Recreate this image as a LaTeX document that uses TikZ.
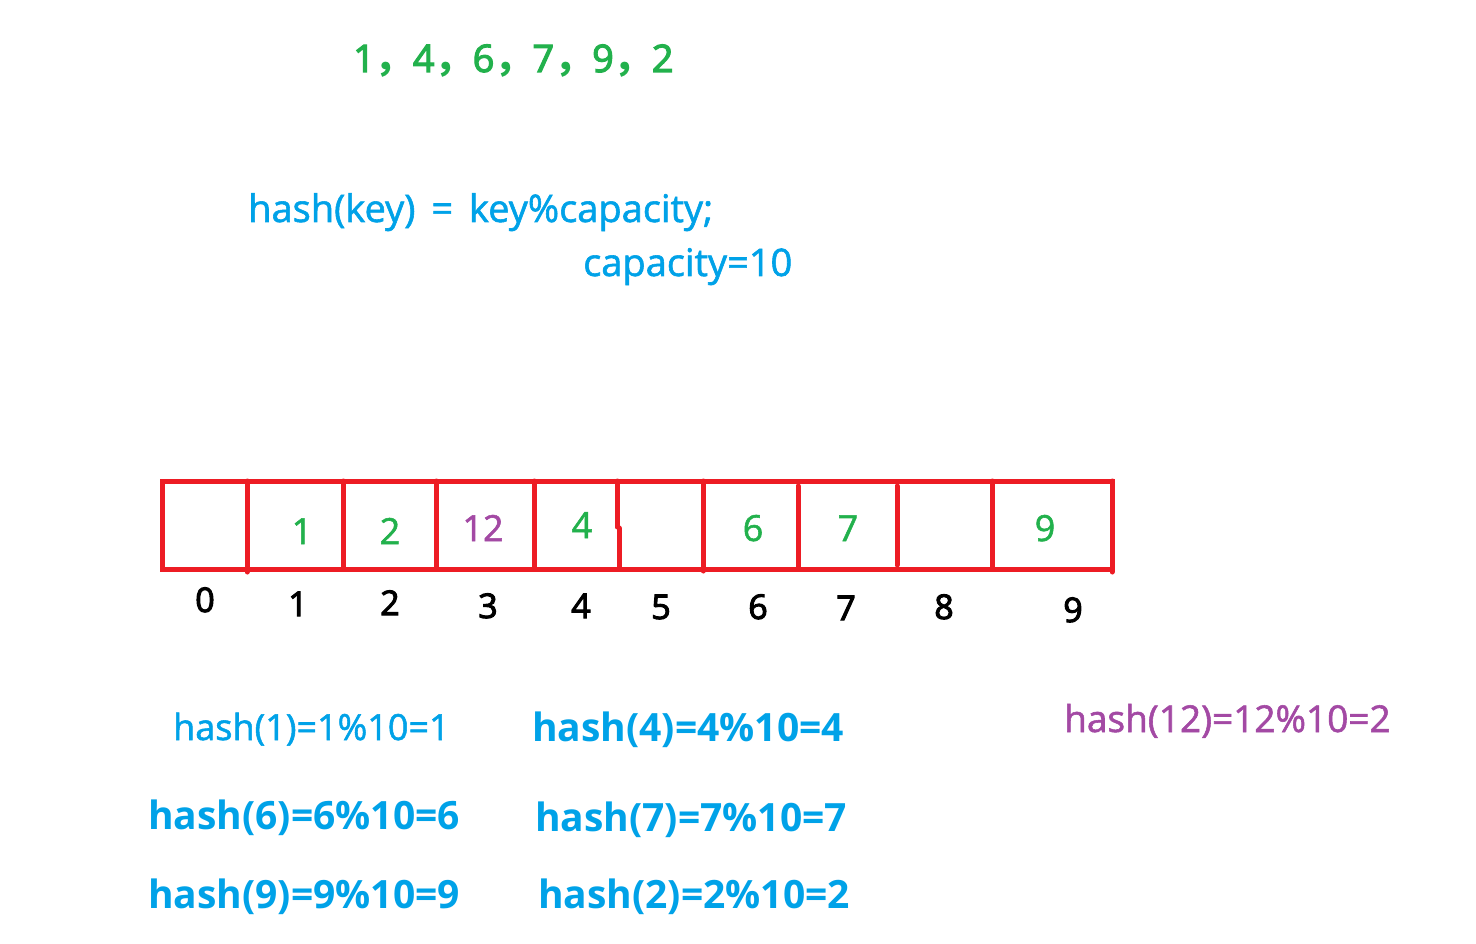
\documentclass[tikz,border=0pt]{standalone}
\usepackage{fontspec}
\setmainfont{Open Sans}
\newfontfamily\medfont[FakeBold=1.5]{Open Sans}
\newfontfamily\semifont[FakeBold=3]{Open Sans}
\newfontfamily\cjk{Noto Sans CJK SC}
\definecolor{pgreen}{RGB}{34,177,76}
\definecolor{pblue}{RGB}{0,162,232}
\definecolor{ppurple}{RGB}{163,73,164}
\definecolor{pred}{RGB}{237,28,36}
\begin{document}
\begin{tikzpicture}[x=1pt,y=-1pt,
  txt/.style={inner sep=0pt, anchor=base west, font=\fontsize{38}{44}\medfont},
  seqtxt/.style={inner sep=0pt, anchor=base west, font=\fontsize{38}{44}\semifont},
  hreg/.style={inner sep=0pt, anchor=base west, font=\fontsize{36}{42}\medfont},
  hpur/.style={inner sep=0pt, anchor=base west, font=\fontsize{37}{42}\medfont},
  hbold/.style={inner sep=0pt, anchor=base west, font=\fontsize{39}{44}\selectfont\bfseries},
  val/.style={inner sep=0pt, anchor=base, font=\fontsize{36}{42}\medfont},
  idx/.style={inner sep=0pt, anchor=base, font=\fontsize{34}{40}\semifont, black},
  cellline/.style={draw=pred, line width=5pt, line cap=round}]
\useasboundingbox[fill=white] (0,0) rectangle (1476,944);

% top sequence
\node[seqtxt, pgreen] (seq) at (353,72) {1{\cjk\bfseries ，}4{\cjk\bfseries ，}6{\cjk\bfseries ，}7{\cjk\bfseries ，}9{\cjk\bfseries ，}2};

% hash function
\node[txt, pblue] (hf) at (248,222) {hash(key)\hspace{6pt} = \hspace{6pt}key\%capacity;};
\node[txt, pblue] (cap) at (583,276) {capacity=10};

% array
\draw[cellline] (162,481) rectangle (1112,569);
\draw[cellline] (247,481) -- (247,572);
\draw[cellline] (343,481) -- (343,569);
\draw[cellline] (436,481) -- (436,569);
\draw[cellline] (534,481) -- (534,569);
\draw[cellline] (617,481) -- (617,527) (619,528) -- (619,569);
\draw[cellline] (703,481) -- (703,571);
\draw[cellline] (798,486) -- (798,569);
\draw[cellline] (897,486) -- (897,565);
\draw[cellline] (992,481) -- (992,569);
\draw[cellline] (1112,481) -- (1112,572);

% cell values
\node[val, pgreen] (v1) at (302,544) {1};
\node[val, pgreen] (v2) at (390,544) {2};
\node[val, ppurple] (v3) at (483,541) {12};
\node[val, pgreen] (v4) at (582,538) {4};
\node[val, pgreen] (v6) at (753,541) {6};
\node[val, pgreen] (v7) at (848,541) {7};
\node[val, pgreen] (v9) at (1045,541) {9};

% indices
\node[idx] (i0) at (205,612) {0};
\node[idx] (i1) at (298,616) {1};
\node[idx] (i2) at (390,615) {2};
\node[idx] (i3) at (488,618) {3};
\node[idx] (i4) at (581,618) {4};
\node[idx] (i5) at (661,619) {5};
\node[idx] (i6) at (758,619) {6};
\node[idx] (i7) at (846,620) {7};
\node[idx] (i8) at (944,619) {8};
\node[idx] (i9) at (1073,622) {9};

% hash computations
\node[hreg, pblue] (h1) at (173,740) {hash(1)=1\%10=1};
\node[hbold, pblue] (h4) at (532,741) {hash(4)=4\%10=4};
\node[hbold, pblue] (h6) at (148,829) {hash(6)=6\%10=6};
\node[hbold, pblue] (h7) at (535,831) {hash(7)=7\%10=7};
\node[hbold, pblue] (h9) at (148,908) {hash(9)=9\%10=9};
\node[hbold, pblue] (h2) at (538,908) {hash(2)=2\%10=2};
\node[hpur, ppurple] (h12) at (1064,732) {hash(12)=12\%10=2};
\end{tikzpicture}
\end{document}
